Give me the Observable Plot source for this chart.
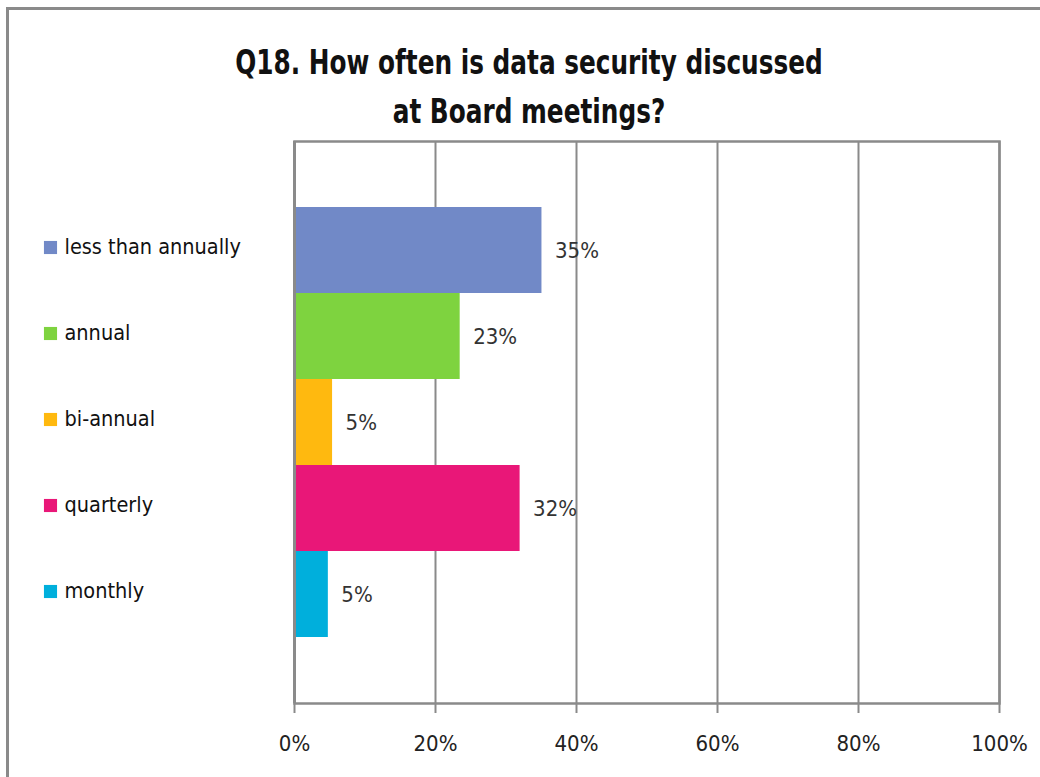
<!DOCTYPE html>
<html>
<head>
<meta charset="utf-8">
<script src="https://cdn.jsdelivr.net/npm/d3@7"></script>
<script src="https://cdn.jsdelivr.net/npm/@observablehq/plot@0.6"></script>
<style>
  html, body { margin: 0; padding: 0; background: #fff; }
  #wrap { position: relative; width: 1040px; height: 777px; overflow: hidden;
          font-family: "Liberation Sans Narrow", "DejaVu Sans Condensed", "Liberation Sans", sans-serif; }
  #border { position: absolute; left: 6px; top: 7px; width: 1100px; height: 820px;
            border: 3px solid #8a8a8a; box-sizing: border-box; }
  #title { position: absolute; left: 0; top: 38px; width: 1058px; text-align: center;
           font-weight: bold; font-size: 34px; line-height: 49px; color: #111;
           transform: scaleX(0.81); transform-origin: 529px 0; }
  #chart { position: absolute; left: 0; top: 0; }
</style>
</head>
<body>
<div id="wrap">
  <div id="border"></div>
  <div id="chart"></div>
  <div id="title">Q18. How often is data security discussed<br>at Board meetings?</div>
</div>
<script>
const categories = ["less than annually", "annual", "bi-annual", "quarterly", "monthly"];
const values = [35.1, 23.5, 5.4, 32.0, 4.8];
const valueLabels = ["35%", "23%", "5%", "32%", "5%"];
const colors = ["#7189c7", "#7ed33f", "#ffb90f", "#e91778", "#00afdc"];
const xTicks = [0, 20, 40, 60, 80, 100];

const data = categories.map((c, i) => ({cat: c, value: values[i], label: valueLabels[i]}));
const FONT = '"Liberation Sans Narrow", "DejaVu Sans Condensed", "Liberation Sans", sans-serif';

const chart = Plot.plot({
  width: 1040,
  height: 777,
  marginLeft: 294,
  marginRight: 41,
  marginTop: 141,
  marginBottom: 74,
  style: {fontFamily: FONT, color: "#222", background: "transparent"},
  x: {domain: [0, 100]},
  y: {domain: categories, paddingInner: 0, paddingOuter: 0.73},
  color: {domain: categories, range: colors},
  marks: [
    Plot.ruleX(xTicks, {stroke: "#8a8a8a", strokeWidth: 2}),
    Plot.frame({stroke: "#8a8a8a", strokeWidth: 2.5}),
    Plot.barX(data, {x: "value", y: "cat", fill: "cat", inset: 0}),
    Plot.ruleX([0], {stroke: "#8a8a8a", strokeWidth: 3}),
    Plot.ruleY([0], {frameAnchor: "bottom", stroke: "#8a8a8a", strokeWidth: 3.5}),
    Plot.axisX({ticks: xTicks, tickFormat: d => d + "%", tickSize: 10, tickPadding: 22,
                stroke: "#8a8a8a", strokeWidth: 2, fontSize: 22, fill: "#222", label: null}),
    Plot.axisY({ticks: [], label: null, tickSize: 0}),
    Plot.text(data, {x: "value", y: "cat", text: "label", textAnchor: "start", dx: 13,
                     fontSize: 22, fill: "#333"}),
    Plot.dot(data, {y: "cat", frameAnchor: "left", dx: -244, dy: -3, symbol: "square", r: 7.4,
                    fill: "cat", stroke: null}),
    Plot.text(data, {y: "cat", text: "cat", frameAnchor: "left", dx: -230, dy: -3, textAnchor: "start",
                     fontSize: 21.5, fill: "#111"})
  ]
});
document.getElementById("chart").appendChild(chart);
</script>
</body>
</html>
